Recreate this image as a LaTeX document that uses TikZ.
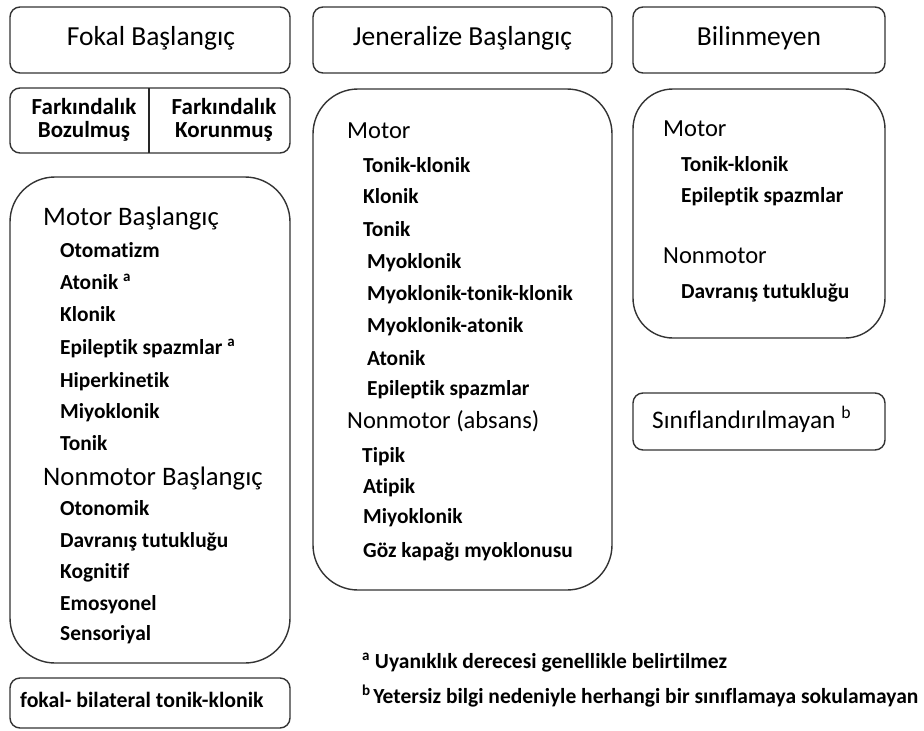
\documentclass[tikz,border=0pt]{standalone}
\usepackage{fontspec}
\setmainfont{Carlito}[Ligatures={NoCommon,NoContextual,NoRequired}]
\begin{document}
\begin{tikzpicture}[x=1pt,y=-1pt,
  box/.style={draw=black!80,line width=1.4pt,rounded corners=10pt,inner sep=0pt},
  bigbox/.style={draw=black!80,line width=1.4pt,rounded corners=45pt,inner sep=0pt},
  head/.style={font=\fontsize{27.5}{32}\selectfont,text=black,inner sep=0pt},
  cat/.style={font=\fontsize{24.5}{30}\selectfont,text=black,inner sep=0pt,anchor=base west},
  bigcat/.style={cat,font=\fontsize{26.7}{30}\selectfont},
  item/.style={font=\bfseries\fontsize{21.4}{24}\selectfont,text=black,inner sep=0pt,anchor=base west},
  fark/.style={font=\bfseries\fontsize{23}{26}\selectfont,text=black,inner sep=0pt,anchor=base},
  note/.style={font=\bfseries\fontsize{21.5}{24}\selectfont,text=black,inner sep=0pt,anchor=base west}]
\useasboundingbox (0,0) rectangle (924,731);
% column 1
\node[box,minimum width=280pt,minimum height=66pt] (fokalbox) at (150,40) {};
\node[head,anchor=base] (fokal) at (151,45) {Fokal Başlangıç};
\node[box,minimum width=280pt,minimum height=65pt] (farkbox) at (150,120.5) {};
\coordinate (divtop) at (149,88);
\coordinate (divbot) at (149,153);
\draw[draw=black!85,line width=1.4pt] (divtop) -- (divbot);
\node[fark] (fark1) at (84,114) {Farkındalık};
\node[fark] (fark1b) at (84,137) {Bozulmuş};
\node[fark] (fark2) at (224,114) {Farkındalık};
\node[fark] (fark2b) at (224,137) {Korunmuş};
\node[bigbox,minimum width=280pt,minimum height=486pt] (fbig) at (150,420) {};
\node[bigcat] (motorb) at (43,225) {Motor Başlangıç};
\node[item] (f1) at (60,257) {Otomatizm};
\node[item] (f2) at (60,289) {Atonik \textsuperscript{a}};
\node[item] (f3) at (60,321) {Klonik};
\node[item] (f4) at (60,354) {Epilept\kern0pt ik spazmlar \textsuperscript{a}};
\node[item] (f5) at (60,387) {Hiperkinetik};
\node[item] (f6) at (60,418) {Miyoklonik};
\node[item] (f7) at (60,450) {Tonik};
\node[bigcat] (nonmotorb) at (43,485) {Nonmotor Başlangıç};
\node[item] (f8) at (60,515) {Otonomik};
\node[item] (f9) at (60,547) {Davranış tutukluğu};
\node[item] (f10) at (60,578) {Kognit\kern0pt if};
\node[item] (f11) at (60,610) {Emosyonel};
\node[item] (f12) at (60,640) {Sensoriyal};
\node[box,minimum width=280pt,minimum height=50pt] (bilbox) at (150,703) {};
\node[item,font=\bfseries\fontsize{21.8}{24}\selectfont] (bil) at (20,707) {fokal- bilateral tonik-klonik};
% column 2
\node[box,minimum width=299pt,minimum height=66pt] (jenbox) at (462.5,40) {};
\node[head,anchor=base] (jen) at (462.5,45) {Jeneralize Başlangıç};
\node[bigbox,minimum width=299pt,minimum height=501pt] (jbig) at (462.5,339.5) {};
\node[cat] (jmotor) at (347,138) {Motor};
\node[item] (j1) at (363,172) {Tonik-klonik};
\node[item] (j2) at (363,203) {Klonik};
\node[item] (j3) at (363,236) {Tonik};
\node[item] (j4) at (367,268) {Myoklonik};
\node[item] (j5) at (367,300) {Myoklonik-tonik-klonik};
\node[item] (j6) at (367,332) {Myoklonik-atonik};
\node[item] (j7) at (367,365) {Atonik};
\node[item] (j8) at (367,395) {Epilept\kern0pt ik spazmlar};
\node[cat] (jnon) at (347,428) {Nonmotor (absans)};
\node[item] (j9) at (362,462) {Tipik};
\node[item] (j10) at (363,493) {Atipik};
\node[item] (j11) at (363,523) {Miyoklonik};
\node[item] (j12) at (363,557) {Göz kapağı myoklonusu};
% column 3
\node[box,minimum width=252pt,minimum height=66pt] (unkbox) at (759,40) {};
\node[head,anchor=base] (unk) at (759,45) {Bilinmeyen};
\node[bigbox,rounded corners=40pt,minimum width=252pt,minimum height=249pt] (ubig) at (759,213.5) {};
\node[cat] (umotor) at (663,136) {Motor};
\node[item] (u1) at (681,171) {Tonik-klonik};
\node[item] (u2) at (681,202) {Epilept\kern0pt ik spazmlar};
\node[cat] (unon) at (663,263) {Nonmotor};
\node[item] (u3) at (681,298) {Davranış tutukluğu};
\node[box,minimum width=252pt,minimum height=57pt] (sinbox) at (759,421.5) {};
\node[cat,font=\fontsize{25.3}{28}\selectfont] (sin) at (652,428) {Sınıflandırılmayan \textsuperscript{b}};
% footnotes
\node[note] (n1) at (362,668) {\textsuperscript{a} Uyanıklık derecesi genellikle belirt\kern0pt ilmez};
\node[note] (n2) at (362,703) {\textsuperscript{b}\hspace{2.5pt}Yetersiz bilgi nedeniyle herhangi bir sınıflamaya sokulamayan};
\end{tikzpicture}
\end{document}
